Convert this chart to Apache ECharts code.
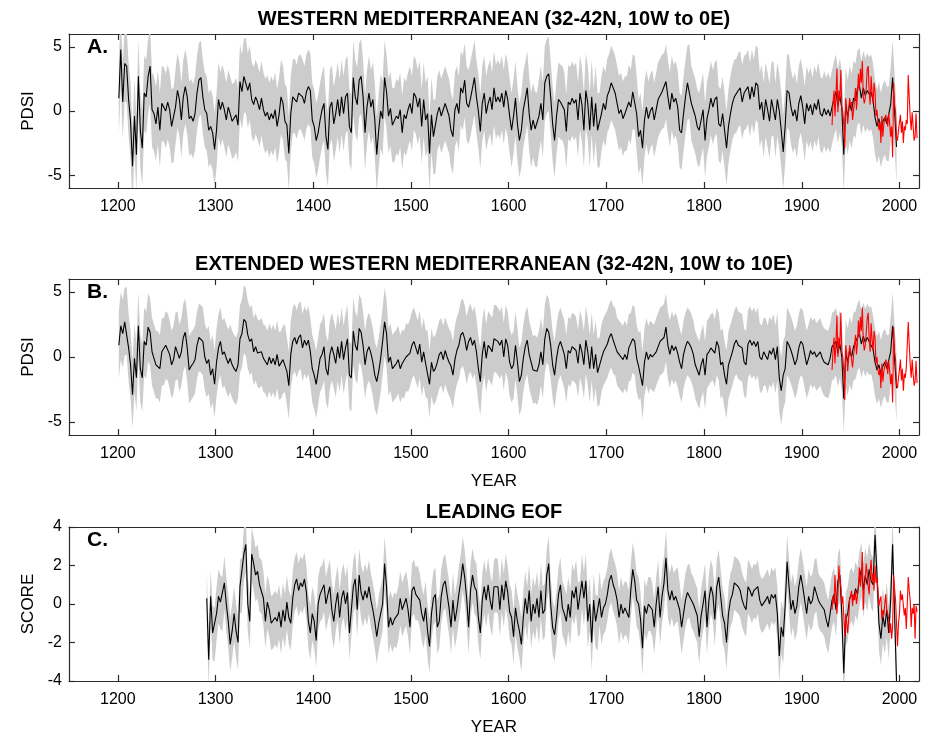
<!DOCTYPE html>
<html>
<head>
<meta charset="utf-8">
<script src="https://cdn.jsdelivr.net/npm/echarts@6/dist/echarts.min.js"></script>
<style>
html, body { margin: 0; background: #fff; }
#main { width: 933px; height: 739px; }
</style>
</head>
<body>
<div id="main"></div>
<script>
// tree-ring reconstructions (black), one value every 2 years
var step = 2;
var startA = 1201, startB = 1201, startC = 1291;

var blackA = [
  1.0,4.8,0.7,3.7,3.5,0.9, -0.8,-4.3,-0.4,-3.4,2.7,-1.5,
  -2.9,1.4,1.1,2.7,3.5,0.1, -0.2,-1.0,0.3,-1.5,0.6,0.5,
  0.0,0.7,0.1,-1.2,-1.1,0.3, 1.6,0.9,-0.7,1.1,1.9,1.1,
  -0.6,-0.4,-0.8,-0.2,1.4,2.4, 2.6,1.1,0.1,-0.2,-1.5,-1.2,
  -1.7,-3.0,-1.5,0.9,0.1,0.7, 0.1,-0.7,0.3,-0.2,-0.8,-0.7,
  -0.3,-1.1,2.3,1.5,2.7,2.8, 1.6,2.2,0.9,0.5,1.1,0.7,
  0.1,1.0,0.1,-0.4,-0.1,-0.7, -0.2,-0.6,0.1,-1.2,-0.3,1.1,
  0.6,-0.8,-1.1,-3.3,-0.2,1.1, 1.2,0.7,1.4,1.5,1.1,0.6,
  1.5,1.9,1.6,-0.7,-1.2,-2.3, -1.7,-0.7,0.1,0.6,-2.0,-3.0,
  0.3,0.7,-1.0,-0.2,0.9,-0.4, 1.1,-0.2,1.1,1.4,-1.2,-1.7,
  2.6,1.1,0.5,
  2.4,2.7,1.1,-1.7,0.3,1.4, 0.3,0.9,-0.7,-3.4,-1.5,0.0,
  -0.6,2.6,1.5,-0.4,0.2,-1.1, -1.1,-0.4,-0.6,0.1,-1.7,-0.3,
  -0.6,0.1,0.6,-0.2,1.4,1.1, 0.3,1.0,-1.2,0.9,-0.7,-0.2,
  -3.3,-0.3,-2.0,-2.0,-0.2,0.3, -0.4,0.1,0.6,0.1,-0.4,-1.5,
  -2.0,0.1,0.6,-0.2,1.8,1.4, 2.4,0.6,0.3,1.0,1.8,2.6,
  1.1,0.0,-1.6,0.6,1.4,-0.2, 0.6,1.1,0.1,1.8,0.7,1.1,
  0.7,1.4,0.3,1.6,0.9,-0.4, -1.5,-0.4,1.0,-1.0,-2.3,-1.5,
  0.1,0.9,1.8,-0.2,-1.5,-0.7, -1.4,-1.5,-0.4,0.6,-0.7,2.2,
  2.7,2.9,1.1,-1.0,-2.3,-0.4, 0.9,0.7,0.6,0.1,-1.6,0.7,
  0.5,1.0,0.6,0.9,-0.7,1.4, 0.5,-1.5,1.6,0.6,-1.5,1.1,
  -1.2,0.6,-1.5,-1.5,-0.2,0.6, 0.1,1.2,1.6,2.2,1.8,1.4,
  0.6,-0.2,0.1,-0.6,-0.2,-0.2, 0.7,0.3,1.5,1.4,-0.2,-2.0,
  -1.5,-2.9,-0.7,0.3,-0.6,0.0, 0.3,-0.7,0.1,0.9,1.2,1.5,
  1.6,2.3,1.1,0.1,1.4,0.7, 1.0,0.3,-1.5,-1.7,-0.2,1.1,
  2.2,2.3,0.6,0.1,-0.4,-1.2, -1.5,-0.7,0.1,-2.3,-0.6,0.1,
  1.0,0.3,0.9,1.1,-1.0,-1.2, -0.2,-1.5,-2.9,-1.2,-0.2,0.6,
  1.1,1.2,1.6,1.8,0.7,1.4, 1.5,1.9,0.9,1.9,1.1,2.2,
  2.0,0.1,0.7,-0.7,0.9,0.1, -0.8,0.9,1.0,-0.7,0.9,0.0,
  -1.5,-3.2,-1.2,1.6,1.4,0.3, -0.4,0.1,-0.8,0.6,1.2,0.3,
  -1.0,0.6,0.0,0.5,-0.3,0.6, 0.1,0.9,-0.2,-0.4,0.2,-0.3,
  0.1,-0.4,
  0.3,1.0,1.5,0.4,1.2,0.2,-3.4,0.5,-0.5,0.6,0.0,1.0,
  0.8,1.8,2.0,1.0,1.8,1.2,1.6,1.3,1.5,0.8,-0.5,-1.2,
  -0.6,-1.5,-0.8,-0.5,-1.0,-1.0,0.5,2.6,0.0,-2.8
];

var blackB = [
  0.9,2.4,1.8,2.7,2.8,0.7, -0.6,-2.9,-0.1,-1.6,2.4,-0.9,
  -1.6,1.2,0.9,2.3,1.9,0.4, -0.1,-0.6,-0.6,-0.9,0.4,0.4,
  0.9,0.8,0.2,-0.6,-0.2,0.8, 0.9,-0.1,0.4,1.5,1.9,0.7,
  -1.0,-0.7,-0.5,-0.2,0.9,1.5, 1.4,1.2,0.0,-0.5,-0.2,-1.4,
  -0.9,-2.1,-0.4,0.7,1.2,0.2, 0.4,-0.1,-0.5,-0.1,-0.6,-0.9,
  -1.1,-0.6,1.4,1.8,2.9,2.7, 1.7,1.2,1.4,0.4,0.8,0.3,
  0.2,0.4,-0.1,-0.2,-0.6,0.0, -0.5,-0.1,-0.6,0.2,-0.7,-0.6,
  -0.2,-0.1,-1.1,-2.2,0.2,1.2, 1.5,1.0,1.5,1.7,0.7,1.3,
  0.9,1.3,0.4,-0.9,-1.4,-2.1, -1.1,-0.1,0.2,0.8,-0.9,-1.4,
  0.2,0.8,0.2,-0.5,0.8,-0.1, 1.2,-0.2,0.7,1.4,-1.4,-1.6,
  2.0,0.9,0.5,
  2.2,1.9,0.9,-0.6,0.4,0.8, 0.3,-0.4,-1.4,-1.9,-1.1,-0.1,
  1.2,2.7,1.8,-0.4,0.0,-0.9, -0.7,-0.5,-0.2,-0.9,-0.5,-0.6,
  0.0,-0.1,0.3,0.9,1.2,0.7, 0.2,1.0,-0.4,0.4,-0.5,-0.6,
  -2.1,-0.4,-1.1,-0.9,-0.4,0.2, 0.4,-0.2,0.5,0.0,-0.4,-0.7,
  -1.4,-0.2,0.5,0.9,1.7,1.9, 1.4,0.5,1.2,1.5,0.9,1.3,
  0.4,-0.9,-1.9,0.2,1.2,-0.1, 0.9,0.7,0.4,1.4,1.4,1.2,
  0.9,1.3,0.0,1.4,0.9,-0.4, -0.9,-0.6,0.9,-0.4,-1.9,-1.4,
  -0.1,0.8,1.3,0.2,-0.4,-1.0, -0.9,-1.1,-0.6,0.4,-0.6,1.4,
  2.2,1.9,0.9,-0.6,-1.4,-0.1, 0.8,1.2,0.7,0.2,-0.9,0.5,
  0.3,0.8,0.7,0.5,-0.5,1.0, 0.4,-0.6,1.3,0.4,-0.9,0.8,
  -0.9,0.2,-1.2,-1.1,-0.1,0.4, 0.7,1.0,1.5,1.8,1.3,1.2,
  0.4,0.2,0.0,-0.2,0.2,-0.2, 0.7,0.8,1.4,1.2,-0.1,-0.7,
  -0.6,-2.2,-0.4,0.4,-0.2,0.2, 0.0,-0.1,0.4,0.8,1.2,1.3,
  1.5,2.3,0.9,0.2,0.9,0.5, 0.8,0.3,-0.4,-0.9,0.2,0.8,
  1.2,1.0,0.7,0.2,-0.6,-1.0, -1.4,-0.6,-0.1,-1.4,0.2,0.4,
  0.7,0.8,0.3,1.2,0.8,-0.6, -0.4,-1.4,-2.1,-0.6,-0.1,0.4,
  1.0,1.3,0.9,0.8,0.7,-0.4, -0.6,1.0,1.3,0.9,1.2,0.8,
  1.2,0.0,-0.2,0.4,0.4,-0.2, 0.5,0.2,0.7,-0.2,0.8,-1.6,
  -2.6,-1.4,-0.9,1.2,0.9,0.5, 0.0,-0.6,-0.2,0.7,1.2,1.0,
  0.2,-0.6,-0.1,0.5,0.2,0.4, 0.0,0.2,0.4,-0.1,-0.4,-0.5,
  -0.6,-0.1,
  0.8,0.9,1.2,0.3,1.0,0.0,-3.2,0.3,-0.4,0.5,0.0,0.8,
  0.9,1.5,1.8,1.0,1.6,1.1,1.5,1.2,1.3,0.6,-0.4,-1.0,
  -0.6,-1.3,-0.7,-0.4,-0.9,-0.9,0.4,2.4,-0.2,-2.4
];

var blackC = [
  0.3,-2.9,0.4,-1.5,-1.6,-0.5, 0.4,0.1,0.0,1.1,0.0,-0.9,
  -2.1,-1.4,-0.5,-1.4,-2.0,0.9, 1.0,2.6,3.1,0.0,-0.9,2.6,
  2.1,1.5,1.7,1.0,0.9,0.3, -0.9,0.1,-0.3,-1.0,-0.9,-0.7,
  -0.9,-0.4,-1.2,-0.3,-0.9,0.1, -0.7,-1.0,0.3,1.0,1.3,0.7,
  1.1,0.9,1.3,0.6,-0.9,-1.5, -0.5,-0.9,-1.9,0.0,0.5,0.6,
  1.0,0.0,0.5,0.9,-0.3,-0.9, 0.0,0.6,-0.7,0.3,0.7,0.0,
  0.6,-1.5,-0.3,0.9,1.3,-0.3,
  1.5,0.6,0.2,0.7,0.3,0.9, 0.2,-0.3,-0.9,-1.7,-1.0,-0.5,
  0.0,2.1,0.9,-1.2,-0.7,-1.1, -0.8,-0.9,-0.5,0.3,-0.3,0.0,
  0.3,-0.3,-1.2,0.7,0.9,0.5, 0.6,0.2,-0.5,-0.9,-0.2,-1.4,
  -2.2,-0.5,0.3,0.5,-1.2,-0.9, 0.4,1.0,1.2,0.5,-0.2,-1.2,
  0.2,-0.9,-0.3,0.5,1.2,2.1, 1.4,0.3,-1.2,0.7,1.5,0.9,
  0.7,-0.7,-1.5,0.2,0.9,0.2, 1.0,0.2,-0.3,0.9,1.0,0.9,
  -0.3,1.0,0.2,1.2,0.6,-0.4, -0.7,-1.7,-0.2,-0.9,-1.4,-2.1,
  -0.7,0.3,-0.5,0.7,-0.9,0.0, -0.5,0.3,-0.7,0.7,-0.5,-0.3,
  1.5,2.1,0.0,-1.2,-1.6,-0.7, 0.5,1.0,-0.2,-0.5,-0.9,0.0,
  -0.7,0.7,0.3,0.9,-0.3,-0.2, 1.2,0.3,1.2,-0.9,0.0,-2.0,
  0.2,-0.9,-1.0,0.3,-0.7,-0.2, 0.0,0.5,1.2,1.5,1.0,0.7,
  0.2,-0.7,0.0,-0.5,-0.2,-0.3, -0.7,0.7,1.8,1.2,0.2,0.0,
  -0.8,-2.3,-0.1,-0.5,0.0,0.0, -0.3,-1.2,0.0,0.9,-0.7,0.4,
  1.1,2.4,0.7,0.2,0.7,0.2, 0.4,0.5,-0.3,-1.2,-0.5,0.2,
  0.6,0.7,0.2,0.0,-0.3,-0.6, -1.7,-0.6,0.0,0.7,-1.2,0.2,
  0.9,0.5,-0.8,0.9,1.4,0.4, -0.6,-1.0,-2.0,-0.5,0.2,0.5,
  1.1,1.0,0.9,0.7,0.2,-0.1, -0.3,0.9,0.7,0.4,0.7,0.6,
  0.9,0.2,-0.1,0.0,0.2,0.4, 0.0,0.5,0.3,0.5,-0.5,-2.7,
  -1.2,-1.7,-0.1,2.2,0.9,-0.3, 0.2,-0.5,-0.1,0.9,1.5,0.9,
  0.2,-0.5,0.4,0.0,0.2,0.9, 1.0,0.2,0.0,-0.1,-0.3,-0.8,
  -1.2,-0.5,
  0.2,0.5,-0.3,1.2,1.5,-0.5,-3.6,-0.8,-0.5,0.3,0.5,0.2,
  0.8,0.5,1.3,1.8,0.7,1.5,1.0,1.8,1.2,1.0,3.6,1.5,
  -1.0,-1.8,-0.6,-1.2,-0.3,-1.5,0.2,3.1,-0.5,-4.0
];

// instrumental values (red), annual from 1931
var redStart = 1931;
var redA = [
  -1.1,0.6,1.6,-0.4,1.2,3.3,-0.1,1.6,0.9,3.2,
  0.3,-0.1,-1.0,-2.9,1.0,0.2,-1.0,0.0,1.0,0.4,
  0.7,-0.7,0.0,0.9,1.8,0.1,1.2,2.9,1.6,3.3,
  2.2,3.9,1.1,0.6,1.0,1.8,3.3,3.5,1.5,0.5,
  2.7,1.4,0.6,2.2,1.5,-0.4,0.1,-0.9,-1.5,-0.8,
  -2.5,-0.4,-2.0,-1.0,-0.6,-0.3,-0.4,-1.2,-0.2,-1.0,
  -2.0,-1.2,-3.6,2.2,0.5,-0.1,-2.0,-2.3,-1.5,-0.9,
  -0.3,-1.7,-0.8,-2.5,-1.2,-1.5,-0.7,-1.0,2.8,1.1,
  -0.5,-1.5,-0.1,-1.2,-2.3,-2.0,-0.2,-2.1
];
var redB = [
  -1.0,0.5,1.5,-0.5,1.1,3.2,0.0,1.5,0.8,3.4,
  0.4,0.0,-1.1,-3.3,0.9,0.3,-1.1,-0.1,0.9,0.5,
  0.6,-0.8,0.1,0.8,1.7,0.2,1.1,2.8,1.5,3.1,
  2.0,3.8,1.2,0.5,0.9,1.9,3.0,3.4,1.4,0.4,
  2.6,1.3,0.5,2.0,1.4,-0.5,0.0,-1.0,-1.4,-0.9,
  -2.4,-0.5,-1.9,-1.1,-0.7,-0.2,-0.5,-1.3,-0.3,-1.1,
  -2.1,-1.3,-3.5,2.3,0.4,-0.2,-2.1,-2.4,-1.6,-1.0,
  -0.2,-1.8,-0.9,-2.6,-1.3,-1.6,-0.8,-0.9,2.7,1.0,
  -0.6,-1.6,-0.2,-1.3,-2.2,-1.9,-0.3,-2.0
];
var redC = [
  -0.3,0.4,0.0,1.5,0.3,-0.5,0.5,2.0,1.3,0.9,
  0.0,0.4,-0.6,-1.7,-0.5,-1.0,-1.5,-0.8,0.2,0.3,
  0.7,-0.1,0.5,0.2,0.7,0.0,0.4,1.0,1.9,0.9,
  1.5,2.7,-0.3,0.9,1.3,2.1,1.6,0.9,0.5,1.7,
  2.3,1.2,1.6,0.7,2.0,1.1,1.4,0.7,-0.1,0.2,
  0.4,-0.8,-0.3,-0.6,0.0,0.5,-0.3,-0.5,-0.8,-1.5,
  -1.0,-1.8,-1.2,1.5,0.8,0.2,-1.0,-2.2,-1.0,-0.5,
  0.7,0.2,0.5,-0.1,-0.6,-0.2,-1.3,0.0,1.4,0.7,
  0.2,-1.2,-0.2,-0.5,0.0,-1.8,-0.1,-0.4
];

// half width of the grey uncertainty band
var errA = 2.9, errB = 2.6, errC = 1.4;

var yearTicks = [1200, 1300, 1400, 1500, 1600, 1700, 1800, 1900, 2000];
var pdsiTicks = [-5, 0, 5];
var scoreTicks = [-4, -2, 0, 2, 4];

var titles = [
  'WESTERN MEDITERRANEAN (32-42N, 10W to 0E)',
  'EXTENDED WESTERN MEDITERRANEAN (32-42N, 10W to 10E)',
  'LEADING EOF'
];
var letters = ['A.', 'B.', 'C.'];

var FONT = '"Liberation Sans", Arial, Helvetica, sans-serif';
var AXIS_COLOR = '#2b2b2b';

function pairs(start, st, vals) {
  var out = [];
  for (var i = 0; i < vals.length; i++) {
    out.push([start + i * st, vals[i]]);
  }
  return out;
}

// grey band drawn as one polygon, upper edge then lower edge back
function bandSeries(xi, yi, start, vals, err) {
  var data = vals.map(function (v, i) { return [start + i * step, v - err, v + err]; });
  return {
    type: 'custom', xAxisIndex: xi, yAxisIndex: yi, silent: true, clip: true,
    data: data,
    encode: { x: 0, y: [1, 2] },
    renderItem: function (params, api) {
      if (params.dataIndex !== 0) return null;
      var pts = [], k;
      for (k = 0; k < data.length; k++) pts.push(api.coord([data[k][0], data[k][2]]));
      for (k = data.length - 1; k >= 0; k--) pts.push(api.coord([data[k][0], data[k][1]]));
      return { type: 'polygon', shape: { points: pts }, style: { fill: '#cccccc' } };
    }
  };
}

var panels = [
  { top: 34, height: 154, min: -6, max: 6, ticks: pdsiTicks, yName: 'PDSI', xName: '',
    black: blackA, start: startA, red: redA, err: errA },
  { top: 279, height: 156, min: -6, max: 6, ticks: pdsiTicks, yName: 'PDSI', xName: 'YEAR',
    black: blackB, start: startB, red: redB, err: errB },
  { top: 527, height: 154, min: -4, max: 4, ticks: scoreTicks, yName: 'SCORE', xName: 'YEAR',
    black: blackC, start: startC, red: redC, err: errC }
];

var grid = [], xAxis = [], yAxis = [], series = [], graphic = [];
var lineStyle = { color: AXIS_COLOR, width: 1.2 };
var plain = function (v) { return String(v); };

panels.forEach(function (p, i) {
  grid.push({ left: 69, width: 850, top: p.top, height: p.height });

  xAxis.push({
    gridIndex: i, type: 'value', min: 1150, max: 2020, position: 'bottom',
    axisLine: { onZero: false, lineStyle: lineStyle },
    axisTick: { inside: true, length: 6, lineStyle: lineStyle, customValues: yearTicks },
    axisLabel: { customValues: yearTicks, formatter: plain, color: '#000', fontSize: 16, fontFamily: FONT, margin: 11 },
    splitLine: { show: false },
    name: p.xName, nameLocation: 'middle', nameGap: 38,
    nameTextStyle: { color: '#000', fontSize: 17, fontFamily: FONT }
  });
  xAxis.push({
    gridIndex: i, type: 'value', min: 1150, max: 2020, position: 'top',
    axisLine: { onZero: false, lineStyle: lineStyle },
    axisTick: { inside: true, length: 6, lineStyle: lineStyle, customValues: yearTicks },
    axisLabel: { show: false },
    splitLine: { show: false }
  });
  yAxis.push({
    gridIndex: i, type: 'value', min: p.min, max: p.max, position: 'left',
    axisLine: { show: true, onZero: false, lineStyle: lineStyle },
    axisTick: { show: true, inside: true, length: 6, lineStyle: lineStyle, customValues: p.ticks },
    axisLabel: { customValues: p.ticks, formatter: plain, color: '#000', fontSize: 16, fontFamily: FONT, margin: 7 },
    splitLine: { show: false },
    name: p.yName, nameLocation: 'middle', nameGap: 29, nameRotate: 90,
    nameTextStyle: { color: '#000', fontSize: 17, fontFamily: FONT }
  });
  yAxis.push({
    gridIndex: i, type: 'value', min: p.min, max: p.max, position: 'right',
    axisLine: { show: true, onZero: false, lineStyle: lineStyle },
    axisTick: { show: true, inside: true, length: 6, lineStyle: lineStyle, customValues: p.ticks },
    axisLabel: { show: false },
    splitLine: { show: false }
  });

  var xi = 2 * i, yi = 2 * i;
  series.push(bandSeries(xi, yi, p.start, p.black, p.err));
  series.push({
    type: 'line', xAxisIndex: xi, yAxisIndex: yi,
    data: pairs(p.start, step, p.black), symbol: 'none',
    lineStyle: { color: '#000000', width: 1.1 }
  });
  series.push({
    type: 'line', xAxisIndex: xi, yAxisIndex: yi,
    data: pairs(redStart, 1, p.red), symbol: 'none',
    lineStyle: { color: '#ff0000', width: 1.1 }
  });

  graphic.push({
    type: 'text', x: 494, y: p.top - 15,
    style: { text: titles[i], fill: '#000', font: 'bold 20px ' + FONT,
             textAlign: 'center', textVerticalAlign: 'middle', align: 'center', verticalAlign: 'middle' }
  });
  graphic.push({
    type: 'text', x: 87, y: p.top + 13,
    style: { text: letters[i], fill: '#000', font: 'bold 21px ' + FONT,
             textAlign: 'left', textVerticalAlign: 'middle', align: 'left', verticalAlign: 'middle' }
  });
});

var chart = echarts.init(document.getElementById('main'));
chart.setOption({
  animation: false,
  backgroundColor: '#ffffff',
  grid: grid,
  xAxis: xAxis,
  yAxis: yAxis,
  series: series,
  graphic: graphic
});
</script>
</body>
</html>
